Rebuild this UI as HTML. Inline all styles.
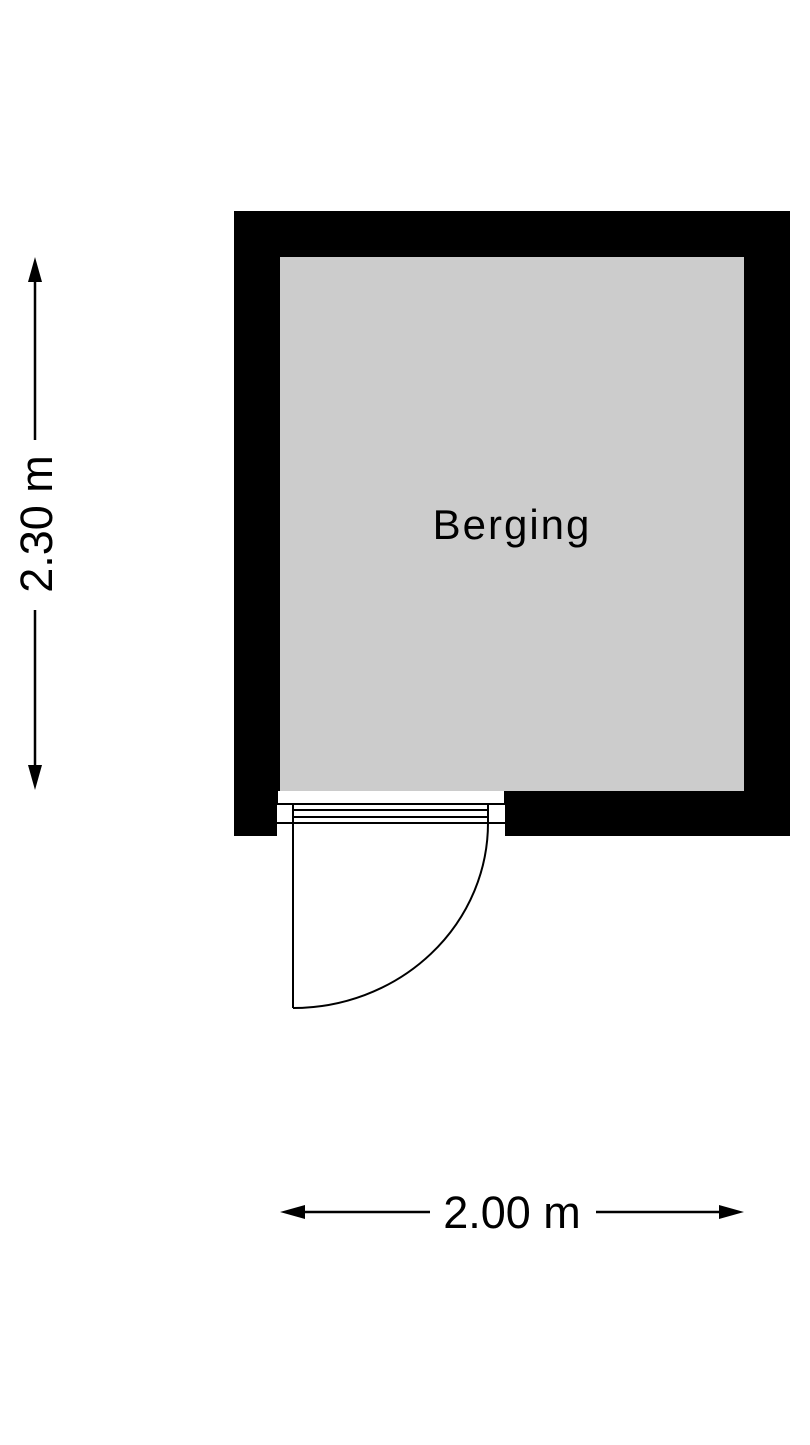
<!DOCTYPE html>
<html><head><style>body{margin:0;background:#fff}</style></head><body>
<svg width="810" height="1440" viewBox="0 0 810 1440" xmlns="http://www.w3.org/2000/svg">
<rect x="234" y="211" width="556" height="625" fill="#000"/>
<rect x="280" y="257" width="464" height="534" fill="#cccccc"/>
<rect x="277" y="791" width="228" height="46" fill="#fff"/>
<g stroke="#000" stroke-width="2" fill="none">
<line x1="277" y1="791" x2="277" y2="804"/>
<line x1="505" y1="791" x2="505" y2="804"/>
<line x1="277" y1="804" x2="505" y2="804"/>
<line x1="293" y1="810" x2="488" y2="810"/>
<line x1="293" y1="817" x2="488" y2="817"/>
<line x1="277" y1="823" x2="505" y2="823"/>
<line x1="293" y1="804" x2="293" y2="1008"/>
<line x1="488" y1="804" x2="488" y2="823"/>
<path d="M293 1008 A195 185 0 0 0 488 823"/>
</g>
<g stroke="#000" stroke-width="2.5">
<line x1="35" y1="275" x2="35" y2="440"/>
<line x1="35" y1="610" x2="35" y2="772"/>
<line x1="298" y1="1212" x2="430" y2="1212"/>
<line x1="596" y1="1212" x2="726" y2="1212"/>
</g>
<polygon points="35,257 28,282 42,282" fill="#000"/>
<polygon points="35,790 28,765 42,765" fill="#000"/>
<polygon points="280,1212 305,1205 305,1219" fill="#000"/>
<polygon points="744,1212 719,1205 719,1219" fill="#000"/>
<text x="512" y="539" font-family="Liberation Sans, sans-serif" font-size="42" text-anchor="middle" letter-spacing="2">Berging</text>
<text x="512" y="1228" font-family="Liberation Sans, sans-serif" font-size="45" text-anchor="middle">2.00 m</text>
<text transform="translate(52,524) rotate(-90)" font-family="Liberation Sans, sans-serif" font-size="45" text-anchor="middle">2.30 m</text>
</svg>
</body></html>
